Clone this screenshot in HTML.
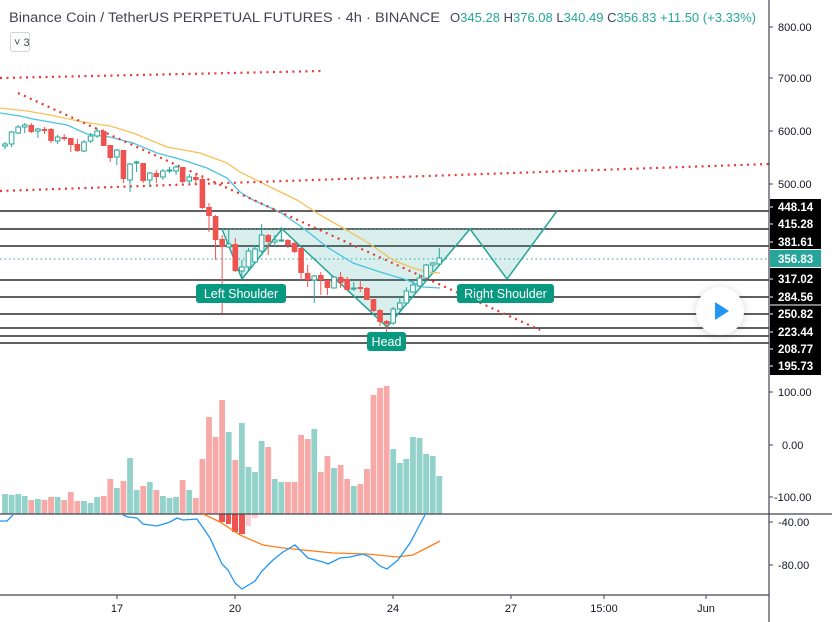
<!DOCTYPE html>
<html><head><meta charset="utf-8"><style>
body{margin:0;background:#fff;width:832px;height:622px;overflow:hidden;font-family:"Liberation Sans",sans-serif}
svg{position:absolute;left:0;top:0}
.ax{font-size:11px;fill:#131722}
</style></head><body>
<svg id="s" width="832" height="622" viewBox="0 0 832 622">
<defs><filter id="sh" x="-50%" y="-50%" width="200%" height="200%"><feGaussianBlur stdDeviation="4"/></filter></defs>
<rect width="832" height="622" fill="#fff"/>
<g stroke="#000" stroke-width="1.2">
<line x1="0" y1="211" x2="769" y2="211"/><line x1="0" y1="229" x2="769" y2="229"/><line x1="0" y1="246" x2="769" y2="246"/>
<line x1="0" y1="280" x2="769" y2="280"/><line x1="0" y1="297" x2="769" y2="297"/><line x1="0" y1="314" x2="769" y2="314"/>
<line x1="0" y1="328" x2="769" y2="328"/><line x1="0" y1="336" x2="769" y2="336"/><line x1="0" y1="343" x2="769" y2="343"/>
</g>
<line x1="0" y1="259" x2="769" y2="259" stroke="#26a69a" stroke-dasharray="1.5 3" stroke-width="1"/>
<polygon points="222,229 242,279 282,229 387,327 470,229" fill="#26a69a" fill-opacity="0.18"/>
<polygon points="470,229 507,279 545,229" fill="#26a69a" fill-opacity="0.18"/>
<line x1="222" y1="229" x2="545" y2="229" stroke="#26a69a" stroke-opacity="0.4" stroke-dasharray="2 2"/>
<polyline points="222,229 242,279 282,229 387,327 470,229 507,279 557,211" fill="none" stroke="#26a69a" stroke-width="1.5"/>
<polyline points="0,108 27,111 50,115 83,122 110,126 133,133 167,147 200,153 227,163 240,172 270,187 297,200 320,215 343,228 367,242 393,260 413,268 427,272 440,273" fill="none" stroke="#f6c15a" stroke-width="1.3"/>
<polyline points="0,113 20,116 33,119 67,125 87,134 110,137 133,143 157,153 183,160 207,168 227,178 240,192 253,200 280,212 303,228 327,247 353,263 380,272 407,280 423,287 440,288" fill="none" stroke="#4cc3de" stroke-width="1.3"/>
<g stroke="#e53935" stroke-width="2.2" stroke-dasharray="2 4.5" fill="none">
<line x1="0" y1="78" x2="322" y2="71"/>
<line x1="0" y1="191" x2="769" y2="164"/>
<line x1="18" y1="93" x2="540" y2="330"/>
</g>
<g id="candles"></g>
<rect x="196" y="284" width="90" height="19" rx="3" fill="#089981"/>
<text x="241" y="298" font-size="12.5" fill="#fff" text-anchor="middle">Left Shoulder</text>
<rect x="367" y="332" width="39" height="19" rx="3" fill="#089981"/>
<text x="386.5" y="346" font-size="12.5" fill="#fff" text-anchor="middle">Head</text>
<rect x="457" y="284" width="97" height="19" rx="3" fill="#089981"/>
<text x="505.5" y="298" font-size="12.5" fill="#fff" text-anchor="middle">Right Shoulder</text>
<circle cx="720" cy="312" r="25" fill="#000" opacity="0.12" filter="url(#sh)"/>
<circle cx="720" cy="311" r="24" fill="#fff"/>
<polygon points="715,302 715,320 729,311" fill="#2196f3"/>
<g id="vol"></g>
<g id="hist">
<rect x="219" y="514" width="6" height="8" fill="#ef5350"/>
<rect x="226" y="514" width="5" height="10" fill="#ef5350"/>
<rect x="232" y="514" width="6" height="18" fill="#ef5350"/>
<rect x="239" y="514" width="6" height="20" fill="#ef5350"/>
<rect x="246" y="514" width="5" height="12" fill="#ffcdd2"/>
<rect x="252" y="514" width="6" height="4" fill="#ffcdd2"/>
</g>
<line x1="0" y1="514" x2="832" y2="514" stroke="#434651" stroke-width="1.2"/>
<polyline points="203,514 220,522 240,535 263,545 283,548 333,553 367,554 397,557 413,555 440,541" fill="none" stroke="#ff7d1a" stroke-width="1.3"/>
<polyline points="0,521 7,521 13,515" fill="none" stroke="#2196f3" stroke-width="1.3"/>
<polyline points="123,515 128,517 137,518 143,524 157,526 170,522 177,518 183,520 197,519 210,538 222,564 228,570 235,583 242,589 255,581 262,571 273,560 283,552 295,545 308,558 323,562 328,564 340,558 350,557 363,554 370,557 380,566 387,569 398,560 410,543 418,528 425,515" fill="none" stroke="#2196f3" stroke-width="1.3"/>
<line x1="769" y1="0" x2="769" y2="622" stroke="#434651" stroke-width="1.2"/>
<line x1="0" y1="595" x2="769" y2="595" stroke="#434651" stroke-width="1.2"/>
<g stroke="#434651"><line x1="117" y1="595" x2="117" y2="599"/><line x1="235" y1="595" x2="235" y2="599"/><line x1="393" y1="595" x2="393" y2="599"/><line x1="511" y1="595" x2="511" y2="599"/><line x1="604" y1="595" x2="604" y2="599"/><line x1="706" y1="595" x2="706" y2="599"/></g>
<g class="ax" text-anchor="middle">
<text x="117" y="612">17</text><text x="235" y="612">20</text><text x="393" y="612">24</text><text x="511" y="612">27</text><text x="604" y="612">15:00</text><text x="706" y="612">Jun</text>
</g>
<g stroke="#434651">
<line x1="769" y1="27" x2="773" y2="27"/><line x1="769" y1="78" x2="773" y2="78"/><line x1="769" y1="131" x2="773" y2="131"/><line x1="769" y1="184" x2="773" y2="184"/>
<line x1="769" y1="392" x2="773" y2="392"/><line x1="769" y1="445" x2="773" y2="445"/><line x1="769" y1="497" x2="773" y2="497"/><line x1="769" y1="522" x2="773" y2="522"/><line x1="769" y1="565" x2="773" y2="565"/>
</g>
<g class="ax">
<text x="778" y="31">800.00</text><text x="778" y="82">700.00</text><text x="778" y="135">600.00</text><text x="778" y="188">500.00</text>
<text x="778" y="396">100.00</text><text x="782" y="449">0.00</text><text x="774" y="501">-100.00</text><text x="778" y="526">-40.00</text><text x="778" y="569">-80.00</text>
</g>
<rect x="770" y="199" width="51" height="176" fill="#000"/>
<rect x="770" y="250" width="51" height="17" fill="#26a69a"/>
<line x1="770" y1="249.5" x2="821" y2="249.5" stroke="#fff"/><line x1="770" y1="267.5" x2="821" y2="267.5" stroke="#fff"/>
<line x1="770" y1="305" x2="821" y2="305" stroke="#fff"/>
<g font-size="11.5" font-weight="bold" fill="#fff">
<text x="778" y="211">448.14</text><text x="778" y="228">415.28</text><text x="778" y="246">381.61</text><text x="778" y="263">356.83</text>
<text x="778" y="283">317.02</text><text x="778" y="301">284.56</text><text x="778" y="318">250.82</text><text x="778" y="336">223.44</text>
<text x="778" y="353">208.77</text><text x="778" y="370">195.73</text>
</g>
<g stroke="#fff"><line x1="770" y1="207" x2="773" y2="207"/><line x1="770" y1="224" x2="773" y2="224"/><line x1="770" y1="242" x2="773" y2="242"/><line x1="770" y1="279" x2="773" y2="279"/><line x1="770" y1="297" x2="773" y2="297"/><line x1="770" y1="314" x2="773" y2="314"/><line x1="770" y1="332" x2="773" y2="332"/><line x1="770" y1="349" x2="773" y2="349"/><line x1="770" y1="366" x2="773" y2="366"/></g>
<text x="9" y="22" font-size="13.5" fill="#434651" textLength="431" lengthAdjust="spacingAndGlyphs">Binance Coin / TetherUS PERPETUAL FUTURES · 4h · BINANCE</text>
<text x="450" y="22" font-size="12.5" fill="#434651" textLength="306" lengthAdjust="spacingAndGlyphs">O<tspan fill="#26a69a">345.28</tspan> H<tspan fill="#26a69a">376.08</tspan> L<tspan fill="#26a69a">340.49</tspan> C<tspan fill="#26a69a">356.83</tspan> <tspan fill="#26a69a">+11.50 (+3.33%)</tspan></text>
<rect x="10.5" y="32.5" width="19" height="19" rx="2" fill="#fff" stroke="#d1d4dc"/>
<text x="14" y="46" font-size="11" fill="#434651">˅ 3</text>
</svg>
<script>
var C=[[144,146,142,149,'g'],[132,144,131,147,'g'],[127,133,125,134,'g'],[125,127,123,133,'g'],[125,132,123,133,'r'],[129,131,128,138,'g'],[129,131,127,134,'r'],[129,141,128,143,'r'],[137,141,135,144,'g'],[137,139,134,141,'r'],[138,145,138,152,'r'],[144,151,139,152,'r'],[142,151,140,152,'g'],[136,141,133,143,'g'],[131,136,128,138,'g'],[131,146,129,146,'r'],[145,158,145,162,'r'],[150,157,149,165,'g'],[150,179,150,183,'r'],[164,180,163,192,'g'],[162,163,161,172,'g'],[163,181,163,183,'r'],[173,180,172,187,'g'],[173,177,170,183,'r'],[171,177,169,180,'g'],[170,171,167,173,'g'],[167,171,165,175,'g'],[167,182,167,183,'r'],[177,181,174,184,'g'],[177,180,175,184,'r'],[179,208,175,209,'r'],[207,216,203,232,'r'],[216,240,215,260,'r'],[239,247,235,313,'r'],[244,247,229,247,'g'],[244,271,238,272,'r'],
[267,271,260,278,'g'],[251,267,248,270,'g'],[249,262,245,263,'g'],[235,251,224,253,'g'],[235,242,234,255,'r'],[240,242,235,247,'g'],[240,241,227,242,'g'],[240,245,239,248,'r'],[243,252,242,253,'r'],[248,273,247,280,'r'],[273,280,265,287,'r'],[276,280,275,303,'g'],[275,280,272,295,'r'],[280,288,280,295,'r'],[277,288,276,288,'g'],[277,283,272,288,'r'],[279,290,277,290,'r'],[288,289,282,291,'g'],[287,289,280,292,'r'],[288,300,287,300,'r'],[299,311,299,312,'r'],[310,322,309,326,'r'],[321,324,320,332,'r'],[309,323,307,325,'g'],[303,309,297,310,'g'],[291,303,287,303,'g'],[285,292,280,293,'g'],[278,286,274,287,'g'],[265,278,264,279,'g'],[263,265,262,272,'g'],[258,264,248,265,'g']];
var V=[[342,'g'],[345,'g'],[342,'g'],[348,'g'],[360,'r'],[357,'g'],[360,'r'],[351,'r'],[351,'g'],[360,'r'],[336,'r'],[363,'r'],[363,'g'],[369,'g'],[351,'g'],[348,'r'],[297,'r'],[324,'g'],[303,'r'],[234,'g'],[330,'g'],[318,'r'],[306,'g'],[330,'r'],[348,'g'],[354,'g'],[351,'g'],[300,'r'],[330,'g'],[354,'r'],[237,'r'],[111,'r'],[171,'r'],[60,'r'],[156,'g'],[240,'r'],[129,'g'],[261,'g'],[276,'g'],[183,'g'],[201,'r'],[297,'g'],[306,'g'],[306,'r'],[306,'r'],[165,'r'],[177,'r'],[147,'g'],[276,'r'],[228,'r'],[264,'g'],[255,'r'],[297,'r'],[318,'g'],[312,'r'],[267,'r'],[45,'r'],[24,'r'],[18,'r'],[207,'g'],[249,'g'],[237,'g'],[171,'g'],[174,'g'],[222,'g'],[228,'g'],[288,'g']];
var NS='http://www.w3.org/2000/svg';
function el(g,t,a){var e=document.createElementNS(NS,t);for(var k in a)e.setAttribute(k,a[k]);g.appendChild(e);}
var cg=document.getElementById('candles'),vg=document.getElementById('vol');
C.forEach(function(c,i){var x=5+i*6.58,col=c[4]=='g'?'#26a69a':'#ef5350';
el(cg,'line',{x1:x,x2:x,y1:c[2],y2:c[3],stroke:col,'stroke-width':1});
var h=Math.max(1,c[1]-c[0]);
if(c[4]=='g')el(cg,'rect',{x:x-2.3,y:c[0],width:4.6,height:h,fill:'#fff',stroke:col,'stroke-width':1});
else el(cg,'rect',{x:x-2.8,y:c[0],width:5.6,height:h,fill:col});});
V.forEach(function(v,i){var x=5+i*6.58,t=380+v[0]/3;
el(vg,'rect',{x:x-2.9,y:t,width:5.8,height:514-t,fill:v[1]=='g'?'#93d2ca':'#f7a9a7'});});
</script>
</body></html>
